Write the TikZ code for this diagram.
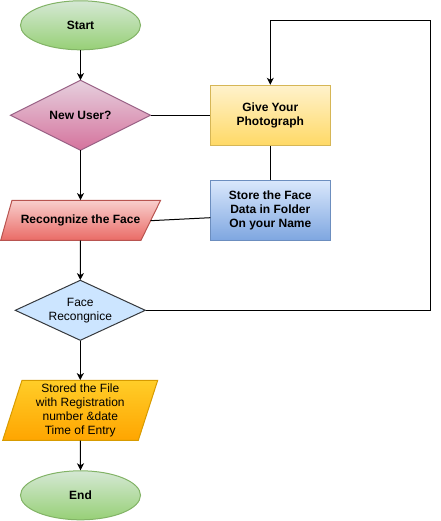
\documentclass[tikz,border=0pt]{standalone}
\usepackage{fontspec}
\setmainfont{Liberation Sans}
\usetikzlibrary{shapes.geometric,arrows.meta,calc}
\definecolor{grA}{HTML}{D5E8D4}\definecolor{grB}{HTML}{97D077}\definecolor{grS}{HTML}{82B366}
\definecolor{pkA}{HTML}{E6D0DE}\definecolor{pkB}{HTML}{D5739D}\definecolor{pkS}{HTML}{996185}
\definecolor{ywA}{HTML}{FFF2CC}\definecolor{ywB}{HTML}{FFD966}\definecolor{ywS}{HTML}{D6B656}
\definecolor{rdA}{HTML}{F8CECC}\definecolor{rdB}{HTML}{EA6B66}\definecolor{rdS}{HTML}{B85450}
\definecolor{blA}{HTML}{DAE8FC}\definecolor{blB}{HTML}{7EA6E0}\definecolor{blS}{HTML}{6C8EBF}
\definecolor{lbF}{HTML}{CCE5FF}\definecolor{lbS}{HTML}{36393D}
\definecolor{orA}{HTML}{FFCD28}\definecolor{orB}{HTML}{FFA500}\definecolor{orS}{HTML}{D79B00}
\begin{document}
\begin{tikzpicture}[x=1pt,y=-1pt,
  txt/.style={align=center,font=\fontsize{12}{14}\selectfont\bfseries,text=black},
  txtn/.style={align=center,font=\fontsize{12}{14}\selectfont,text=black},
  term/.style={ellipse,draw=grS,top color=grA,bottom color=grB,minimum width=120pt,minimum height=49pt,inner sep=0pt,line width=1pt,txt},
  boxnode/.style={rectangle,minimum width=120pt,minimum height=60pt,inner sep=0pt,line width=1pt,txt},
  link/.style={line width=1pt,draw=black},
  arr/.style={link,-{Stealth[length=7pt,width=7pt,inset=2pt]}}]
\useasboundingbox (0,0) rectangle (440,521);
% shapes
\node[term] (start) at (80.5,25.3) {Start};
\path[draw=pkS,top color=pkA,bottom color=pkB,line width=1pt] (80.5,80.3) -- (150.5,115.3) -- (80.5,150.3) -- (10.5,115.3) -- cycle;
\node[txt,minimum width=140pt,minimum height=70pt,inner sep=0pt] (newuser) at (80.5,115.3) {New User?};
\node[boxnode,draw=ywS,top color=ywA,bottom color=ywB] (give) at (270.3,115.3) {Give Your\\Photograph};
\node[boxnode,draw=blS,top color=blA,bottom color=blB] (store) at (270.3,210.3) {Store the Face\\Data in Folder\\On your Name};
\path[draw=rdS,top color=rdA,bottom color=rdB,line width=1pt] (12,200.3) -- (160.6,200.3) -- (141,240.3) -- (0.7,240.3) -- cycle;
\node[txt,minimum width=140pt,minimum height=40pt,inner sep=0pt] (rec) at (80.5,220.3) {Recongnize the Face};
\path[draw=lbS,fill=lbF,line width=1pt] (80.3,280.3) -- (145.3,310.3) -- (80.3,340.3) -- (15.3,310.3) -- cycle;
\node[txtn,minimum width=130pt,minimum height=60pt,inner sep=0pt] (face) at (80.3,310.3) {Face\\Recongnice};
\path[draw=orS,top color=orA,bottom color=orB,line width=1pt] (22,380.3) -- (157.7,380.3) -- (138.3,440.3) -- (2.7,440.3) -- cycle;
\node[txtn,minimum width=140pt,minimum height=60pt,inner sep=0pt] (stored) at (80.3,410.3) {Stored the File\\with Registration\\number \&date\\Time of Entry};
\node[term] (end) at (80.5,495.3) {End};
% connectors
\coordinate (recR) at (150.5,220.7);
\coordinate (storeL) at (210.3,217.7);
\coordinate (c1) at (430.3,310.3);
\coordinate (c2) at (430.3,20.3);
\draw[arr] (start) -- (newuser);
\draw[link] (newuser.east) -- (give.west);
\draw[link] (give.south) -- (store.north);
\draw[arr] (newuser.south) -- (rec.north);
\draw[link] (recR) -- (storeL);
\draw[arr] (rec.south) -- (face.north);
\draw[arr] (face.east) -- (c1) |- (give.north |- c2) -- (give.north);
\draw[arr] (face.south) -- (stored.north);
\draw[arr] (stored.south) -- (end.north);
\end{tikzpicture}
\end{document}
